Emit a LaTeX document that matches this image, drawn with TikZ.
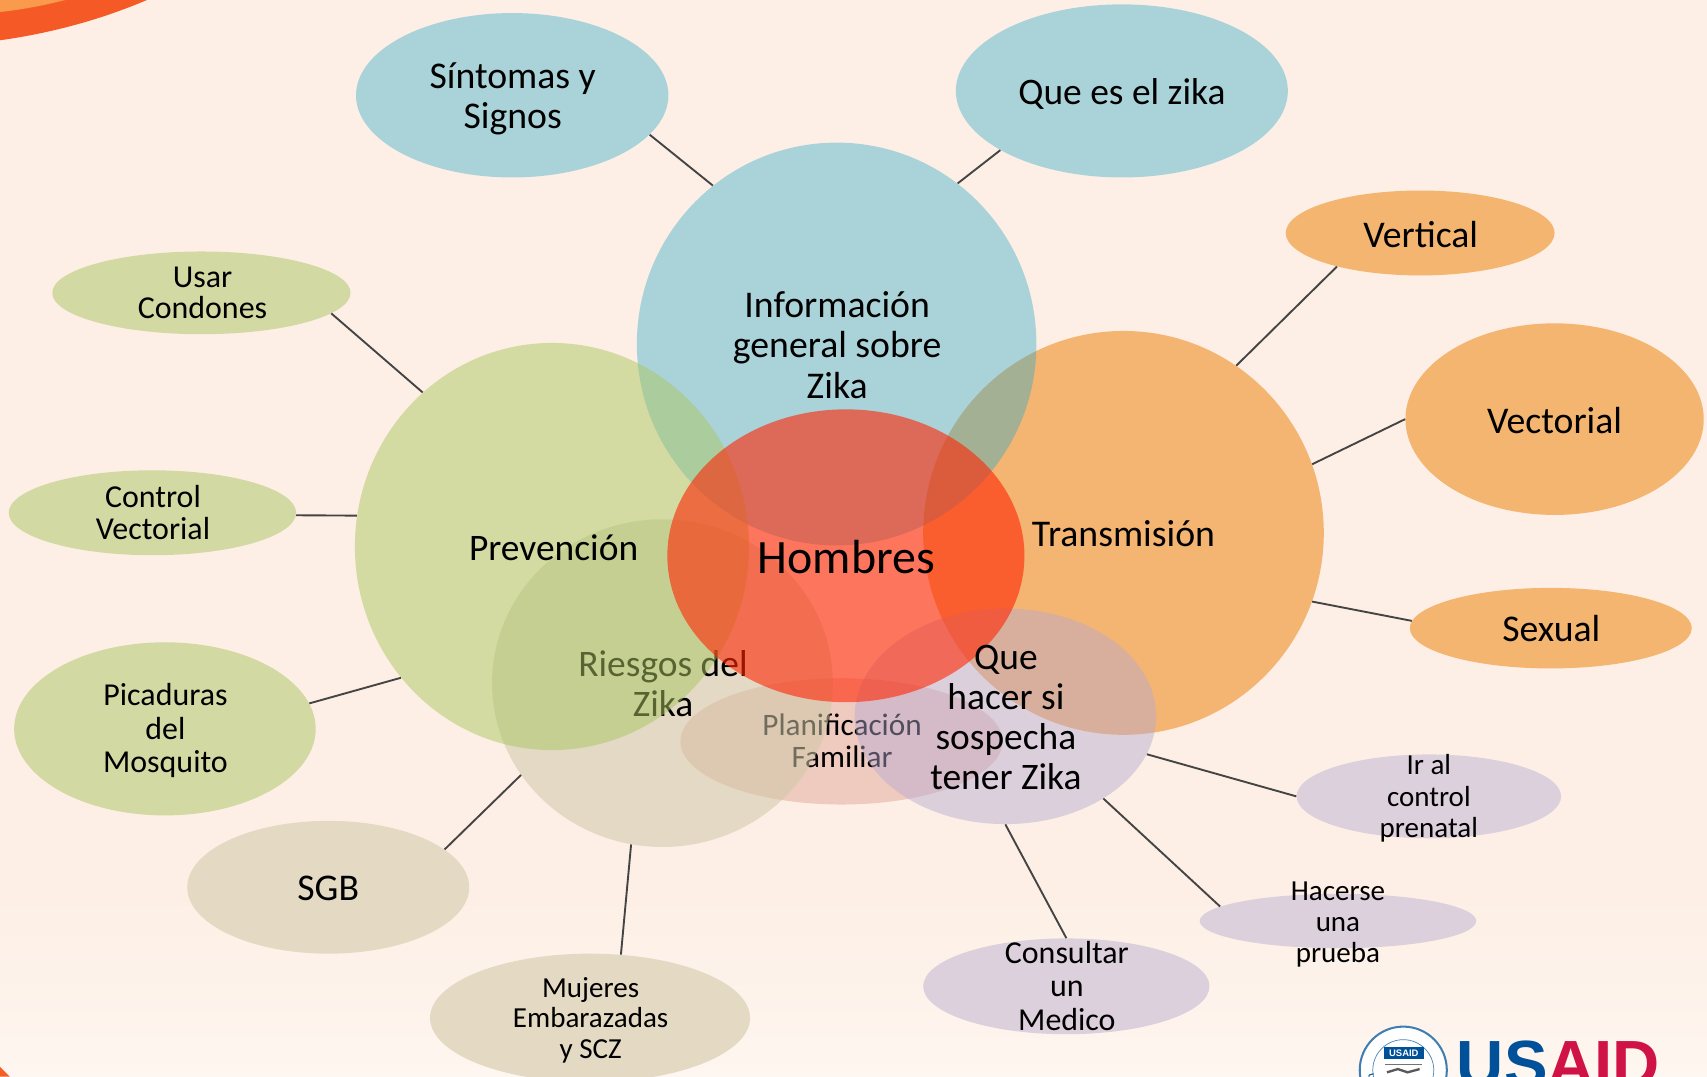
\documentclass[tikz,border=0pt]{standalone}
\usepackage{fontspec}
\setmainfont{Carlito}
\newfontfamily\logofont{Liberation Sans}
\usetikzlibrary{shapes.geometric,decorations.text}
\definecolor{bgc}{HTML}{FDEFE5}
\definecolor{bgl}{HTML}{FEF6F0}
\definecolor{dk}{HTML}{F55A26}
\definecolor{lt}{HTML}{FA9A4C}
\definecolor{blueo}{HTML}{AAD3D9}
\definecolor{greeno}{HTML}{D3D9A2}
\definecolor{tano}{HTML}{E4DAC4}
\definecolor{orao}{HTML}{F4B570}
\definecolor{purpo}{HTML}{DDD0DD}
\definecolor{pinko}{HTML}{EFCABF}
\definecolor{infoc}{HTML}{2EAAC8}
\definecolor{prevc}{HTML}{ACC663}
\definecolor{riesc}{HTML}{CFC8A9}
\definecolor{queh}{HTML}{B6AAD3}
\definecolor{homc}{HTML}{FF2503}
\definecolor{orac}{HTML}{ED7B00}
\definecolor{usb}{HTML}{00519A}
\definecolor{usr}{HTML}{D01346}
\definecolor{linkc}{HTML}{444444}
\tikzset{
  x=0.75pt,y=-0.75pt,
  blob/.style 2 args={ellipse,inner sep=0pt,draw=none,minimum width=#1*1.5pt,minimum height=#2*1.5pt},
  lab/.style 2 args={font=\fontsize{#1}{#2}\selectfont,align=center,inner sep=0pt,text=black},
  link/.style={draw=linkc,line width=1.3pt}
}
\begin{document}
\begin{tikzpicture}
\useasboundingbox (0,0) rectangle (1568,989);
\clip (0,0) rectangle (1568,989);
% background
\fill[bgc] (0,0) rectangle (1568,989);
\shade[top color=bgc,bottom color=bgl] (0,820) rectangle (1568,989);
% corner marks
\fill[dk] (0,0) -- (135,0) .. controls (95,17) and (50,30) .. (0,37) -- cycle;
\fill[lt] (0,0) -- (60,0) .. controls (40,5) and (20,9) .. (0,11) -- cycle;
\fill[dk!90!orange] (0,980) -- (9,989) -- (0,989) -- cycle;
% outer ellipses
\node[blob={143.5}{75.5},fill=blueo] (sint) at (470.5,87.5) {};
\node[blob={152.5}{79.5},fill=blueo] (quees) at (1030.5,83.5) {};
\node[blob={123.5}{39},fill=orao] (vert) at (1304.5,214) {};
\node[blob={137}{88},fill=orao] (vect) at (1428,385) {};
\node[blob={129.5}{37},fill=orao] (sexu) at (1424.5,577) {};
\node[blob={121.5}{38.5},fill=purpo] (iral) at (1312.5,731.5) {};
\node[blob={127}{25},fill=purpo] (hace) at (1229,846) {};
\node[blob={131.5}{44},fill=purpo] (cons) at (979.5,906) {};
\node[blob={147}{59},fill=tano] (muje) at (542,935) {};
\node[blob={129.5}{61},fill=tano] (sgb) at (301.5,815) {};
\node[blob={138.5}{79.5},fill=greeno] (pica) at (151.5,669.5) {};
\node[blob={132}{39},fill=greeno] (ctrl) at (140,471) {};
\node[blob={137}{38},fill=greeno] (usar) at (185,269) {};
% layered central shapes
\node[blob={148}{58},fill=pinko] (plan) at (773,681) {};
\node[lab={21.5}{22}] (tplan) at (773.5,680.5) {Planificación\\Familiar};
\node[blob={184}{185.5},fill=orac,fill opacity=.5] (tran) at (1032,489.5) {};
\node[lab={26}{27.7}] (ttran) at (1032,490.5) {Transmisión};
\node[blob={183.5}{185},fill=infoc,fill opacity=.4] (info) at (768.5,316) {};
\node[lab={26}{27.7}] (tinfo) at (769,317) {Información\\general sobre\\Zika};
\node[blob={156.5}{150.5},fill=riesc,fill opacity=.55] (ries) at (608.5,627.5) {};
\node[lab={25.8}{27.7}] (tries) at (609,628) {Riesgos del\\Zika};
\node[blob={181}{187},fill=prevc,fill opacity=.51] (prev) at (507,502) {};
\node[lab={25.8}{27.7}] (tprev) at (508.5,503.5) {Prevención};
\node[blob={138.5}{99},fill=queh,fill opacity=.45] (qhac) at (923.5,658) {};
\node[blob={164}{134.5},fill=homc,fill opacity=.6] (homb) at (777,510.5) {};
\node[lab={33}{36}] (thomb) at (777.5,512) {Hombres};
\node[lab={25.8}{27.7}] (tqhac) at (924,659) {Que\\hacer si\\sospecha\\tener Zika};
% outer labels
\node[lab={26}{27.7}] (tsint) at (471,91) {Síntomas y\\Signos};
\node[lab={25.8}{27.7}] (tquees) at (1030.5,86.5) {Que es el zika};
\node[lab={26}{27.7}] (tvert) at (1305,215) {Vertical};
\node[lab={26}{27.7}] (tvect) at (1428,386) {Vectorial};
\node[lab={26}{27.7}] (tsexu) at (1425,577) {Sexual};
\node[lab={20}{21.8}] (tiral) at (1312.5,733.5) {Ir al\\control\\prenatal};
\node[lab={20}{21.3}] (thace) at (1229,849) {Hacerse\\una\\prueba};
\node[lab={22}{23.2}] (tcons) at (980,905.5) {Consultar\\un\\Medico};
\node[lab={20}{21}] (tmuje) at (542.5,937) {Mujeres\\Embarazadas\\y SCZ};
\node[lab={26}{27.7}] (tsgb) at (301.5,816) {SGB};
\node[lab={22}{23.2}] (tpica) at (152,671) {Picaduras\\del\\Mosquito};
\node[lab={22}{22}] (tctrl) at (140.5,471) {Control\\Vectorial};
\node[lab={22}{22}] (tusar) at (186,269) {Usar\\Condones};
% connectors
\draw[link] (sint.-16) -- (info.128.8);
\draw[link] (quees.206.2) -- (info.53.2);
\draw[link] (vert.202.3) -- (tran.56.1);
\draw[link] (vect.180) -- (tran.20.4);
\draw[link] (sexu.177.3) -- (tran.-20.2);
\draw[link] (iral.180) -- (qhac.-15.1);
\draw[link] (hace.173) -- (qhac.-40);
\draw[link] (cons.90) -- (qhac.-90);
\draw[link] (muje.64.6) -- (ries.259.5);
\draw[link] (sgb.18) -- (ries.213);
\draw[link] (pica.10.4) -- (prev.221.5);
\draw[link] (ctrl.-1) -- (prev.171.7);
\draw[link] (usar.-9.8) -- (prev.130.4);
% USAID logo
\node[circle,fill=white,draw=usb!75,line width=1.4pt,minimum size=60pt,inner sep=0pt] (seal) at (1289,983) {};
\node[circle,draw=usb!70,line width=.5pt,minimum size=42pt,inner sep=0pt] (sealin) at (1289,983) {};
\path[decorate,decoration={text along path,text align=center,
  text={|\logofont\bfseries\fontsize{5.6}{6}\selectfont\color{usb}|UNITED STATES AGENCY}}]
  (1289,983) ++(165:32.5) arc[start angle=165,end angle=15,radius=32.5];
\node[fill=usb,text=white,font=\logofont\bfseries\fontsize{6.5}{7}\selectfont,minimum width=28pt,minimum height=8.5pt,inner sep=0pt] (sealbox) at (1289.5,967.5) {USAID};
\draw[black!55,line width=.7pt] (1272,978) -- (1306,978);
\draw[black!65,line width=1.6pt] (1274,985) -- (1284,982) -- (1293,985) -- (1304,982);
\node[anchor=base west,inner sep=0pt,font=\logofont\bfseries\fontsize{45}{50}\selectfont] (logo) at (1338,998) {\textcolor{usb}{US}\textcolor{usr}{AID}};
\end{tikzpicture}
\end{document}
